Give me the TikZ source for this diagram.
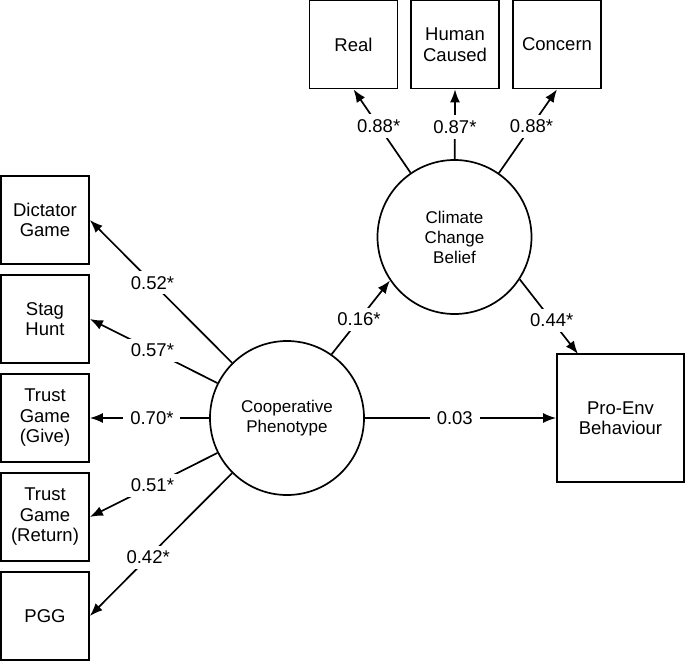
\documentclass[tikz,border=0pt]{standalone}
\usepackage{fontspec}
\setmainfont{Liberation Sans}
\usetikzlibrary{arrows.meta}
\begin{document}
\begin{tikzpicture}[x=1pt,y=-1pt,
  every node/.style={font=\fontsize{18.5}{20.5}\selectfont},
  obsbox/.style={draw, line width=1.7pt, minimum width=88pt, minimum height=88pt, inner sep=0pt, align=center},
  latent/.style={draw, circle, line width=1.7pt, minimum size=154pt, inner sep=0pt, align=center, font=\fontsize{17}{20}\selectfont},
  path/.style={line width=1.7pt, -{Latex[length=13pt,width=10pt]}},
  lbl/.style={fill=white, inner xsep=7pt, inner ysep=5pt}]
\useasboundingbox (0,0) rectangle (685,661);
% observed boxes, left
\node[obsbox] (dict) at (45,220) {Dictator\\Game};
\node[obsbox] (stag) at (45,319) {Stag\\Hunt};
\node[obsbox] (give) at (45,418) {Trust\\Game\\(Give)};
\node[obsbox] (ret)  at (45,517) {Trust\\Game\\(Return)};
\node[obsbox] (pgg)  at (45,616) {PGG};
% observed boxes, top
\node[obsbox] (real)  at (353.5,44.5) {Real};
\node[obsbox] (human) at (455,44.5) {Human\\Caused};
\node[obsbox] (conc)  at (557,44.5) {Concern};
% latent
\node[latent] (coop) at (287,418) {Cooperative\\Phenotype};
\node[latent] (clim) at (454.5,237) {Climate\\Change\\Belief};
% outcome
\node[obsbox, minimum width=127pt, minimum height=128pt] (pro) at (620.5,418) {Pro-Env\\Behaviour};
\coordinate (proin) at (578,354);
% paths
\draw[path] (coop) -- node[lbl, pos=0.56] {0.52*} (dict.east);
\draw[path] (coop) -- node[lbl, pos=0.51] {0.57*} (stag.east);
\draw[path] (coop) -- node[lbl, pos=0.48] {0.70*} (give.east);
\draw[path] (coop) -- node[lbl, pos=0.51] {0.51*} (ret.east);
\draw[path] (coop) -- node[lbl, pos=0.59] {0.42*} (pgg.east);
\draw[path] (clim) -- node[lbl, pos=0.56] {0.88*} (real.south);
\draw[path] (clim) -- node[lbl, pos=0.46] {0.87*} (human.south);
\draw[path] (clim) -- node[lbl, pos=0.56] {0.88*} (conc.south);
\draw[path] (coop.55) -- node[lbl, pos=0.47] {0.16*} (clim.214);
\draw[path] (clim.-33) -- node[lbl, pos=0.55] {0.44*} (proin);
\draw[path] (coop.east) -- node[lbl, pos=0.47] {0.03} (pro.west);
\end{tikzpicture}
\end{document}
